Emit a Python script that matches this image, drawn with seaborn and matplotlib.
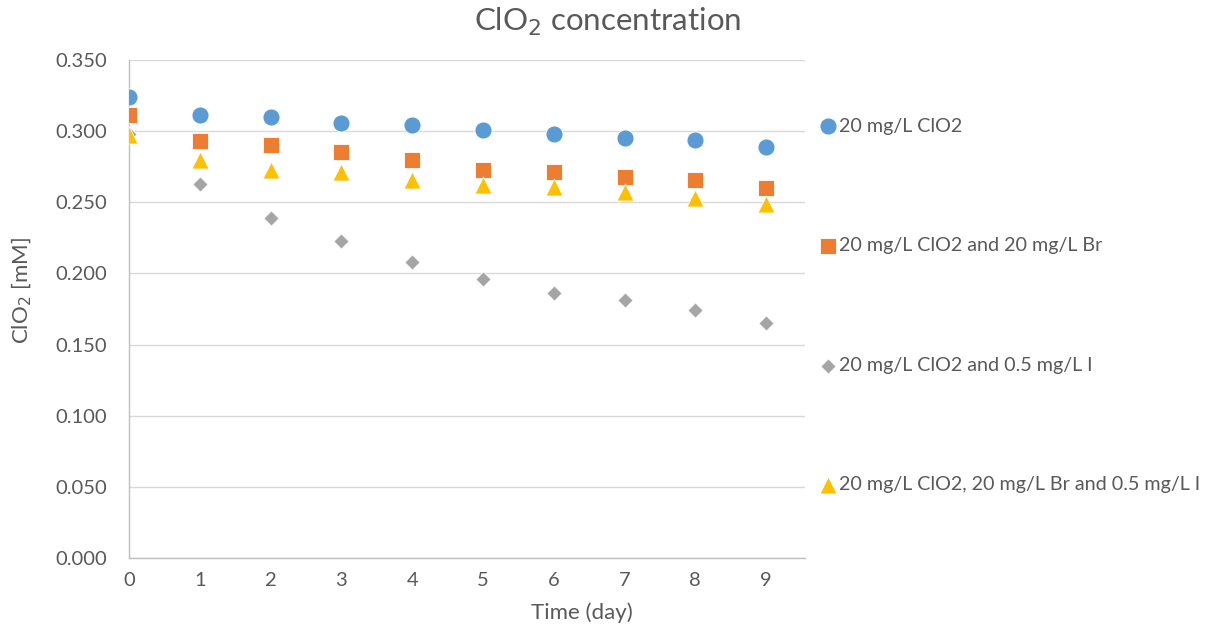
import numpy as np
import pandas as pd
import matplotlib
matplotlib.use("Agg")
import matplotlib.pyplot as plt
from matplotlib.ticker import MultipleLocator, FormatStrFormatter
import seaborn as sns

# Measured ClO2 concentration (mM) over time
days = [0, 1, 2, 3, 4, 5, 6, 7, 8, 9]
clo2_only = [0.324, 0.311, 0.310, 0.306, 0.304, 0.301, 0.298, 0.295, 0.294, 0.289]
clo2_br = [0.311, 0.293, 0.290, 0.285, 0.280, 0.273, 0.271, 0.268, 0.266, 0.260]
clo2_i = [0.298, 0.263, 0.239, 0.223, 0.208, 0.196, 0.186, 0.181, 0.174, 0.165]
clo2_br_i = [0.297, 0.280, 0.273, 0.271, 0.266, 0.262, 0.261, 0.257, 0.253, 0.249]

series_names = [
    "20 mg/L ClO2",
    "20 mg/L ClO2 and 20 mg/L Br",
    "20 mg/L ClO2 and 0.5 mg/L I",
    "20 mg/L ClO2, 20 mg/L Br and 0.5 mg/L I",
]
series_values = [clo2_only, clo2_br, clo2_i, clo2_br_i]
colors = ["#5B9BD5", "#ED7D31", "#A5A5A5", "#FFC000"]
markers = ["o", "s", "D", "^"]
sizes = [150, 130, 60, 150]

frames = [pd.DataFrame({"day": days, "conc": vals, "series": name})
          for name, vals in zip(series_names, series_values)]
df = pd.concat(frames, ignore_index=True)

sns.set_style("white")
plt.rcParams["font.family"] = ["Lato", "DejaVu Sans"]
text_color = "#595959"

fig = plt.figure(figsize=(12.3, 6.29), dpi=100)
ax = fig.add_axes([0.1049, 0.1129, 0.5496, 0.7917])

for name, col, mk, sz in zip(series_names, colors, markers, sizes):
    sub = df[df["series"] == name]
    sns.scatterplot(data=sub, x="day", y="conc", color=col, marker=mk, s=sz,
                    edgecolor="white", linewidth=0.6, label=name, ax=ax, zorder=3)

ax.set_xlim(0, 9.55)
ax.set_ylim(0, 0.35)
ax.yaxis.set_major_locator(MultipleLocator(0.05))
ax.yaxis.set_major_formatter(FormatStrFormatter("%.3f"))
ax.xaxis.set_major_locator(MultipleLocator(1))
ax.xaxis.set_minor_locator(MultipleLocator(0.5))
ax.grid(axis="y", color="#D9D9D9", linewidth=1.0)
ax.set_axisbelow(True)

for side in ["top", "right"]:
    ax.spines[side].set_visible(False)
for side in ["left", "bottom"]:
    ax.spines[side].set_color("#BFBFBF")
    ax.spines[side].set_linewidth(1.0)

ax.tick_params(axis="y", length=0, pad=16, labelsize=14.5, labelcolor=text_color)
ax.tick_params(axis="x", which="both", direction="in", length=4, color="#BFBFBF",
               pad=10, labelsize=14.5, labelcolor=text_color)

ax.set_xlabel("Time (day)", fontsize=16, color=text_color, labelpad=1)
ax.xaxis.set_label_coords(0.67, -0.09)
ax.set_ylabel("ClO$_2$ [mM]", fontsize=16, color=text_color)
ax.yaxis.set_label_coords(-0.14, 0.538)
fig.suptitle("ClO$_2$ concentration", x=0.494, y=0.99, fontsize=22.5, color=text_color)

leg = ax.legend(loc="center left", bbox_to_anchor=(1.008, 0.507), frameon=False,
                fontsize=14.2, labelspacing=5.2, handletextpad=0.05, handlelength=1.0,
                borderaxespad=0)
for t in leg.get_texts():
    t.set_color(text_color)

fig.savefig("out.png", dpi=100)
